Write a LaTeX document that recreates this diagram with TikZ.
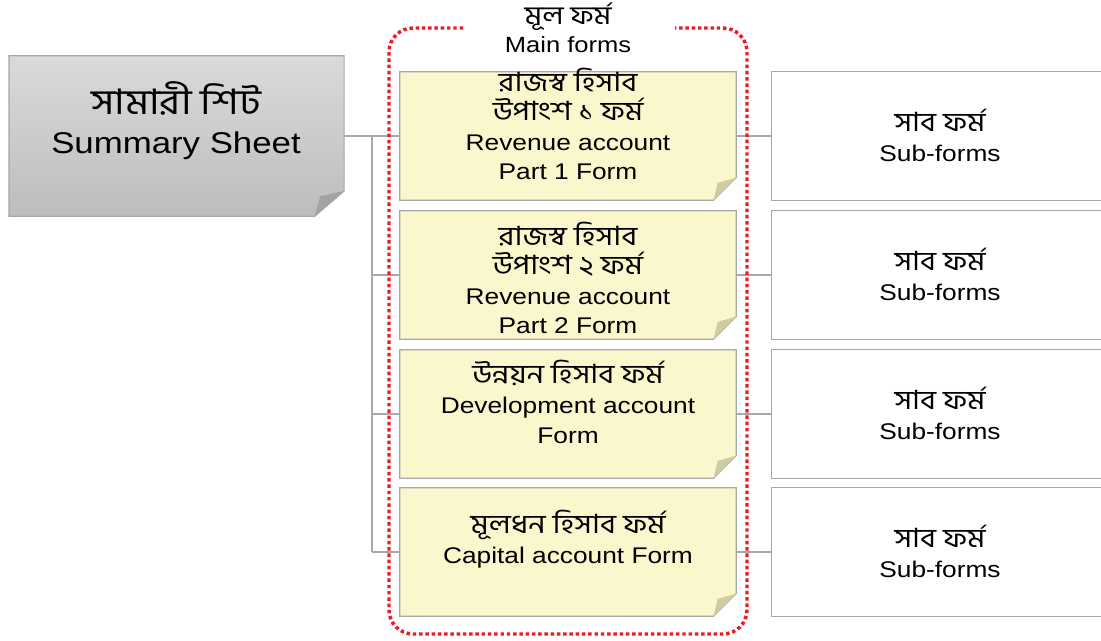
\documentclass[tikz,border=0pt]{standalone}
\usepackage{fontspec}
\setmainfont{Liberation Sans}[FakeStretch=1.16]
\newfontfamily\bn{Hind Siliguri}[Script=Bengali, FakeStretch=1.15, Scale=1.17]
\usetikzlibrary{positioning}

\definecolor{notefill}{HTML}{FAF7CD}
\definecolor{notefold}{HTML}{CFCCA3}
\definecolor{sumtop}{HTML}{DADADA}
\definecolor{sumbot}{HTML}{BDBDBD}
\definecolor{sumfold}{HTML}{A3A3A3}
\definecolor{edge}{HTML}{A8A8A8}
\definecolor{dotred}{HTML}{EC1C24}

\tikzset{
  box/.style={minimum width=252pt, minimum height=96pt, inner sep=0pt},
  link/.style={draw=edge, line width=0.9pt},
  txt/.style={align=center, inner sep=0pt, font=\fontsize{17}{22.2}\selectfont},
}

\begin{document}
\begin{tikzpicture}[x=0.75pt,y=-0.75pt]
  \useasboundingbox (0,0) rectangle (1101,640);
  \clip (0,0) rectangle (1101,640);
  \node[box, minimum width=251pt, minimum height=120pt] (sum) at (176.5,136) {};
  \foreach \i/\y in {1/136,2/275,3/414,4/552}{
    \node[box] (f\i) at (568,\y) {};
    \node[box] (s\i) at (940,\y) {};
  }
  % connectors
  \coordinate (trunk) at (372,136);
  \draw[link] (sum.east) -- (f1.west);
  \draw[link] (trunk) -- (trunk |- f4.west);
  \foreach \i in {2,3,4} \draw[link] (trunk |- f\i.west) -- (f\i.west);
  \foreach \i in {1,...,4} \draw[link] (f\i.east) -- (s\i.west);
  % summary sheet
  \shadedraw[top color=sumtop, bottom color=sumbot, draw=edge, line width=0.9pt]
    (sum.north west) -- (sum.north east) -- ([yshift=19pt]sum.south east)
    -- ([xshift=-22pt]sum.south east) -- (sum.south west) -- cycle;
  \fill[sumfold] ([yshift=19pt]sum.south east) -- ([xshift=-22pt]sum.south east)
    -- ([xshift=-18pt,yshift=15pt]sum.south east) -- cycle;
  % forms
  \foreach \i in {1,...,4}{
    \filldraw[fill=notefill, draw=edge, line width=0.9pt]
      (f\i.north west) -- (f\i.north east) -- ([yshift=17pt]f\i.south east)
      -- ([xshift=-17pt]f\i.south east) -- (f\i.south west) -- cycle;
    \fill[notefold] ([yshift=17pt]f\i.south east) -- ([xshift=-17pt]f\i.south east)
      -- ([xshift=-14pt,yshift=13pt]f\i.south east) -- cycle;
    \filldraw[fill=white, draw=edge, line width=0.9pt]
      (s\i.south east) -- (s\i.south west) -- (s\i.north west) -- (s\i.north east);
  }
  % main forms frame
  \draw[dotred, line width=2.6pt, dash pattern=on 2.6pt off 2.1pt, rounded corners=18pt]
    (463,28) -- (389,28) -- (389,634) -- (747,634) -- (747,28) -- (675,28);
  % texts
  \node[txt, font=\fontsize{22.5}{29}\selectfont] (sumtxt) at (176,120.5) {{\bn সামারী শিট}\\Summary Sheet};
  \node[txt, font=\fontsize{16.5}{21}\selectfont] (mainlbl) at (568,28) {{\bn মূল ফর্ম}\\Main forms};
  \node[txt] (t1) at (568,124) {{\bn রাজস্ব হিসাব}\\{\bn উপাংশ ১ ফর্ম}\\Revenue account\\Part 1 Form};
  \node[txt] (t2) at (568,278) {{\bn রাজস্ব হিসাব}\\{\bn উপাংশ ২ ফর্ম}\\Revenue account\\Part 2 Form};
  \node[txt] (t3) at (568,402) {{\bn উন্নয়ন হিসাব ফর্ম}\\Development account\\Form};
  \node[txt] (t4) at (568,539) {{\bn মূলধন হিসাব ফর্ম}\\Capital account Form};
  \foreach \i in {1,...,4}
    \node[txt] (st\i) at ([yshift=0.6pt]s\i.center) {{\bn সাব ফর্ম}\\Sub-forms};
  % \draw[dotred] (f1.north east) -- (f1.south east);
\end{tikzpicture}
\end{document}
